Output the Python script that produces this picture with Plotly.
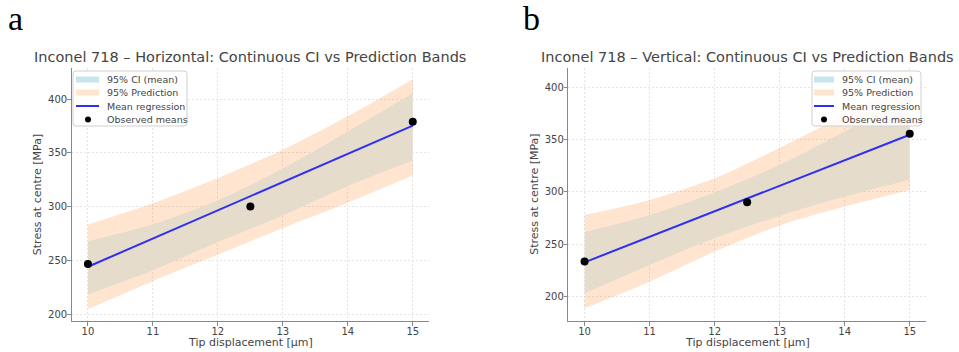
import plotly.graph_objects as go

# ---------------- data ----------------
x_band = [10, 11, 12, 13, 14, 15]

# Panel a: Horizontal
pi_up_h = [283.2, 303.0, 326.5, 353.0, 384.0, 418.5]
ci_up_h = [267.7, 283.5, 306.0, 335.5, 370.0, 405.6]
ci_lo_h = [218.2, 240.8, 267.1, 291.8, 319.0, 342.8]
pi_lo_h = [204.6, 230.6, 255.3, 280.1, 303.6, 328.9]
mean_x = [10, 15]
mean_h = [244.0, 375.3]
obs_x = [10, 12.5, 15]
obs_h = [246.5, 300.0, 379.0]

# Panel b: Vertical
pi_up_v = [278.0, 292.3, 313.0, 342.0, 373.6, 406.0]
ci_up_v = [261.5, 278.0, 299.5, 325.8, 357.6, 392.7]
ci_lo_v = [203.2, 230.3, 255.7, 277.0, 295.5, 311.5]
pi_lo_v = [188.9, 214.3, 243.0, 268.0, 286.0, 301.9]
mean_v = [232.8, 354.5]
obs_v = [233.5, 290.0, 355.5]

x_ticks = [10, 11, 12, 13, 14, 15]
y_ticks = [200, 250, 300, 350, 400]

titles = ["Inconel 718 \u2013 Horizontal: Continuous CI vs Prediction Bands",
          "Inconel 718 \u2013 Vertical: Continuous CI vs Prediction Bands"]
panel_labels = ["a", "b"]
legend_labels = ["95% CI (mean)", "95% Prediction", "Mean regression", "Observed means"]
x_title = "Tip displacement [\u00b5m]"
y_title = "Stress at centre [MPa]"

# ---------------- styling ----------------
W, H = 959, 352
CI_COLOR = "rgb(224,244,252)"
PI_COLOR = "rgba(255,127,14,0.2)"
LINE_COLOR = "#2f2ff2"
TXT = "#444444"
FONT = "DejaVu Sans"


def fx(px):
    return px / W


def fy(py):
    return 1 - py / H


def rounded_rect(x0, y0, x1, y1, r=3):
    pts = [
        f"M {fx(x0 + r)},{fy(y0)}",
        f"L {fx(x1 - r)},{fy(y0)}",
        f"Q {fx(x1)},{fy(y0)} {fx(x1)},{fy(y0 + r)}",
        f"L {fx(x1)},{fy(y1 - r)}",
        f"Q {fx(x1)},{fy(y1)} {fx(x1 - r)},{fy(y1)}",
        f"L {fx(x0 + r)},{fy(y1)}",
        f"Q {fx(x0)},{fy(y1)} {fx(x0)},{fy(y1 - r)}",
        f"L {fx(x0)},{fy(y0 + r)}",
        f"Q {fx(x0)},{fy(y0)} {fx(x0 + r)},{fy(y0)}",
        "Z",
    ]
    return " ".join(pts)


panels = [
    dict(xa="x", ya="y", dom_x=(71.7, 429.0), yr=(193.5, 429.0),
         pi_up=pi_up_h, ci_up=ci_up_h, ci_lo=ci_lo_h, pi_lo=pi_lo_h,
         mean=mean_h, obs=obs_h,
         legend_box=(73, 71, 187, 126), patch_x=(76, 99), text_x=105, mark_x=88,
         label_x=6),
    dict(xa="x2", ya="y2", dom_x=(568.3, 926.0), yr=(176.8, 418.2),
         pi_up=pi_up_v, ci_up=ci_up_v, ci_lo=ci_lo_v, pi_lo=pi_lo_v,
         mean=mean_v, obs=obs_v,
         legend_box=(812, 71, 921, 126), patch_x=(814, 834), text_x=840, mark_x=824,
         label_x=521),
]

fig = go.Figure()
annotations = []
shapes = []

for i, p in enumerate(panels):
    common = dict(xaxis=p["xa"], yaxis=p["ya"], hoverinfo="skip", showlegend=False)
    fig.add_trace(go.Scatter(x=x_band, y=p["ci_lo"], mode="lines",
                             line=dict(width=0, shape="spline", smoothing=0.8), **common))
    fig.add_trace(go.Scatter(x=x_band, y=p["ci_up"], mode="lines", fill="tonexty",
                             fillcolor=CI_COLOR, name=legend_labels[0],
                             line=dict(width=0, shape="spline", smoothing=0.8), **common))
    fig.add_trace(go.Scatter(x=x_band, y=p["pi_lo"], mode="lines",
                             line=dict(width=0, shape="spline", smoothing=0.8), **common))
    fig.add_trace(go.Scatter(x=x_band, y=p["pi_up"], mode="lines", fill="tonexty",
                             fillcolor=PI_COLOR, name=legend_labels[1],
                             line=dict(width=0, shape="spline", smoothing=0.8), **common))
    fig.add_trace(go.Scatter(x=mean_x, y=p["mean"], mode="lines",
                             line=dict(color=LINE_COLOR, width=2),
                             name=legend_labels[2], xaxis=p["xa"], yaxis=p["ya"],
                             showlegend=False))
    fig.add_trace(go.Scatter(x=obs_x, y=p["obs"], mode="markers",
                             marker=dict(color="black", size=8),
                             name=legend_labels[3], xaxis=p["xa"], yaxis=p["ya"],
                             showlegend=False))

    cx = (p["dom_x"][0] + p["dom_x"][1]) / 2
    annotations.append(dict(text=titles[i], x=fx(cx), y=fy(57), xref="paper", yref="paper",
                            xanchor="center", yanchor="middle", showarrow=False,
                            font=dict(family=FONT, size=14.5, color=TXT)))
    annotations.append(dict(text=x_title, x=fx(cx), y=fy(342), xref="paper", yref="paper",
                            xanchor="center", yanchor="middle", showarrow=False,
                            font=dict(family=FONT, size=11, color=TXT)))
    annotations.append(dict(text=y_title, x=fx(p["dom_x"][0] - 34), y=fy(194.5),
                            xref="paper", yref="paper", textangle=-90,
                            xanchor="center", yanchor="middle", showarrow=False,
                            font=dict(family=FONT, size=11, color=TXT)))
    annotations.append(dict(text=panel_labels[i], x=fx(p["label_x"]), y=fy(19),
                            xref="paper", yref="paper", xanchor="left", yanchor="middle",
                            showarrow=False,
                            font=dict(family="Liberation Serif", size=34, color="black")))

    x0, y0, x1, y1 = p["legend_box"]
    shapes.append(dict(type="path", xref="paper", yref="paper",
                       path=rounded_rect(x0, y0, x1, y1),
                       fillcolor="rgba(255,255,255,0.85)",
                       line=dict(color="#d0d0d0", width=1), layer="above"))
    rows = [79.5, 92.5, 106.0, 119.5]
    px0, px1 = p["patch_x"]
    shapes.append(dict(type="rect", xref="paper", yref="paper",
                       x0=fx(px0), x1=fx(px1), y0=fy(rows[0] - 3), y1=fy(rows[0] + 3),
                       fillcolor="rgb(198,229,239)", line=dict(width=0), layer="above"))
    shapes.append(dict(type="rect", xref="paper", yref="paper",
                       x0=fx(px0), x1=fx(px1), y0=fy(rows[1] - 3), y1=fy(rows[1] + 3),
                       fillcolor="rgb(255,228,206)", line=dict(width=0), layer="above"))
    shapes.append(dict(type="line", xref="paper", yref="paper",
                       x0=fx(px0), x1=fx(px1), y0=fy(rows[2]), y1=fy(rows[2]),
                       line=dict(color=LINE_COLOR, width=2), layer="above"))
    mx = p["mark_x"]
    shapes.append(dict(type="circle", xref="paper", yref="paper",
                       x0=fx(mx - 3), x1=fx(mx + 3), y0=fy(rows[3] - 3), y1=fy(rows[3] + 3),
                       fillcolor="black", line=dict(width=0), layer="above"))
    for r, lab in zip(rows, legend_labels):
        annotations.append(dict(text=lab, x=fx(p["text_x"]), y=fy(r), xref="paper",
                                yref="paper", xanchor="left", yanchor="middle",
                                showarrow=False,
                                font=dict(family=FONT, size=9.5, color=TXT)))

axis_common = dict(showline=True, linecolor="#888888", linewidth=1,
                   ticks="outside", ticklen=3.5, tickcolor="#888888",
                   showgrid=True, gridcolor="#e4e4e4", griddash="2px,2px", gridwidth=1,
                   zeroline=False, tickfont=dict(family=FONT, size=10, color=TXT),
                   mirror=False)

y_dom = (fy(321), fy(68))
fig.update_layout(
    width=W, height=H,
    margin=dict(l=0, r=0, t=0, b=0),
    paper_bgcolor="white", plot_bgcolor="white",
    showlegend=False,
    xaxis=dict(domain=[fx(panels[0]["dom_x"][0]), fx(panels[0]["dom_x"][1])],
               range=[9.75, 15.25], tickvals=x_ticks, anchor="y",
               ticklabelstandoff=-3, **axis_common),
    yaxis=dict(domain=list(y_dom), range=list(panels[0]["yr"]), tickvals=y_ticks,
               anchor="x", ticklabelstandoff=-2, **axis_common),
    xaxis2=dict(domain=[fx(panels[1]["dom_x"][0]), fx(panels[1]["dom_x"][1])],
                range=[9.75, 15.25], tickvals=x_ticks, anchor="y2",
                ticklabelstandoff=-3, **axis_common),
    yaxis2=dict(domain=list(y_dom), range=list(panels[1]["yr"]), tickvals=y_ticks,
                anchor="x2", ticklabelstandoff=-2, **axis_common),
    annotations=annotations,
    shapes=shapes,
)

fig.write_html("out.html", config={"displayModeBar": False},
               post_script="document.body.style.margin='0px';")
